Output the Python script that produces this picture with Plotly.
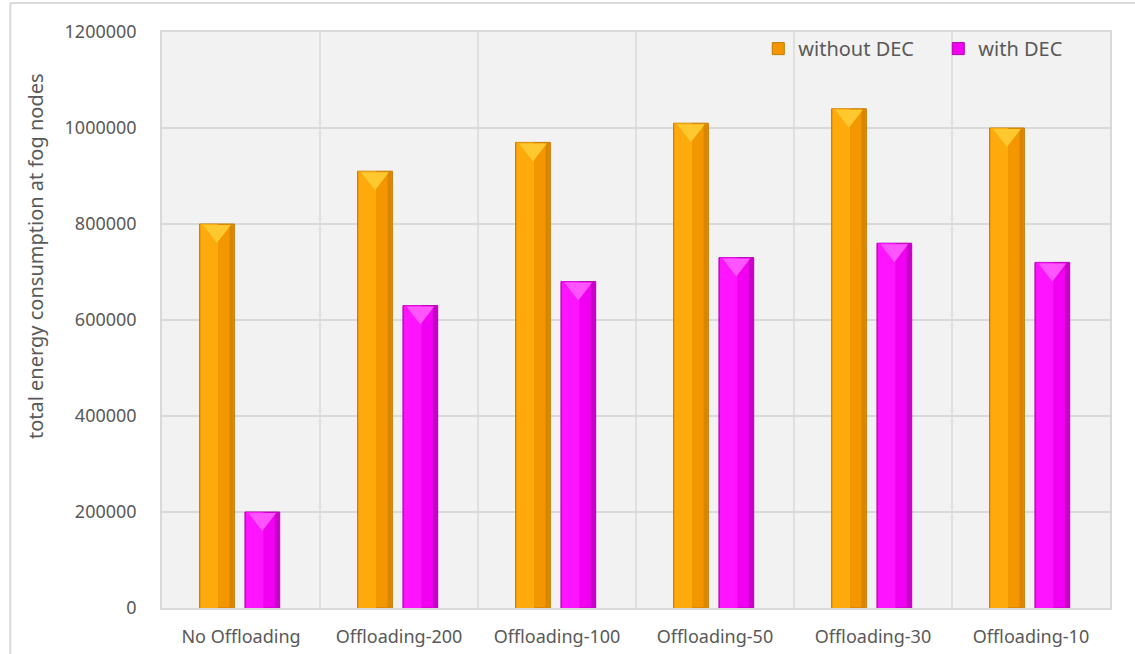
import plotly.graph_objects as go

categories = ["No Offloading", "Offloading-200", "Offloading-100", "Offloading-50", "Offloading-30", "Offloading-10"]
without_dec = [800000, 910000, 970000, 1010000, 1040000, 1000000]
with_dec = [200000, 630000, 680000, 730000, 760000, 720000]
y_ticks = [0, 200000, 400000, 600000, 800000, 1000000, 1200000]

FONT = "'Noto Sans', 'Open Sans', sans-serif"
TXT = "#595959"

idx = list(range(len(categories)))
W = 0.22
OFF = {"o": -0.152, "m": 0.135}
px_per_unit = 576 / 1200000.0

fig = go.Figure()

def add_series(vals, name, base, light, dark, tri, off, line):
    xs = [i + off for i in idx]
    fig.add_trace(go.Bar(x=xs, y=vals, width=W, name=name, marker=dict(color=base, line=dict(color=line, width=1)),
                         showlegend=True, hoverinfo="y"))
    fig.add_trace(go.Bar(x=[x - W * 0.22 for x in xs], y=vals, width=W * 0.5, marker=dict(color=light, line=dict(width=0)),
                         showlegend=False, hoverinfo="skip"))
    fig.add_trace(go.Bar(x=[x + W * 0.42 for x in xs], y=vals, width=W * 0.12, marker=dict(color=dark, line=dict(width=0)),
                         showlegend=False, hoverinfo="skip"))
    size = 24
    shift = (size / 4.0 + 1) / px_per_unit
    fig.add_trace(go.Scatter(x=xs, y=[v - shift for v in vals], mode="markers",
                             marker=dict(symbol="triangle-down", size=size, color=tri, line=dict(width=0)),
                             showlegend=False, hoverinfo="skip", cliponaxis=False))

add_series(without_dec, "without DEC", "#F39700", "#FFAA0C", "#DB8400", "#FFC82E", OFF["o"], "#C47A00")
add_series(with_dec, "with DEC", "#F200F2", "#FF14FF", "#C800C8", "#FF55FF", OFF["m"], "#B000B0")

fig.update_layout(
    width=1135, height=654,
    margin=dict(l=162, r=25, t=32, b=46, autoexpand=False),
    paper_bgcolor="white",
    plot_bgcolor="#F2F2F2",
    barmode="overlay",
    font=dict(family=FONT, size=16, color=TXT),
    legend=dict(orientation="h", x=0.629, y=1.005, xanchor="left", yanchor="top",
                bgcolor="rgba(0,0,0,0)", font=dict(size=20, color=TXT),
                entrywidth=135, entrywidthmode="pixels", itemwidth=30, traceorder="normal"),
    xaxis=dict(range=[-0.5, 5.5], tickmode="array", tickvals=idx, ticktext=categories,
               showgrid=False, zeroline=False, showline=True, linecolor="#D9D9D9", linewidth=1.5, mirror=True,
               ticks="", ticklabelstandoff=12, tickfont=dict(size=18, color=TXT)),
    yaxis=dict(range=[0, 1200000], tickmode="array", tickvals=y_ticks, ticktext=[str(v) for v in y_ticks],
               showgrid=True, gridcolor="#D9D9D9", gridwidth=1.5, zeroline=False,
               showline=True, linecolor="#D9D9D9", linewidth=1.5, mirror=True,
               ticks="", ticklabelstandoff=20, tickfont=dict(size=18, color=TXT)),
)

# y axis title (placed like the original, above centre)
fig.add_annotation(text="total energy consumption at fog nodes", textangle=-90,
                   xref="paper", yref="paper", x=-0.134, y=0.611, xanchor="center", yanchor="middle",
                   showarrow=False, font=dict(size=20, color=TXT))

# vertical separators between categories
for i in range(len(categories) - 1):
    fig.add_vline(x=i + 0.5, line=dict(color="#D9D9D9", width=1.5), layer="below")

# outer chart border (left and top edges)
fig.add_shape(type="line", xref="paper", yref="paper", x0=-0.160, x1=-0.160, y0=-0.2, y1=1.0503,
              line=dict(color="#D9D9D9", width=2))
fig.add_shape(type="line", xref="paper", yref="paper", x0=-0.160, x1=1.2, y0=1.0503, y1=1.0503,
              line=dict(color="#D9D9D9", width=2))

fig.write_html("out.html")
